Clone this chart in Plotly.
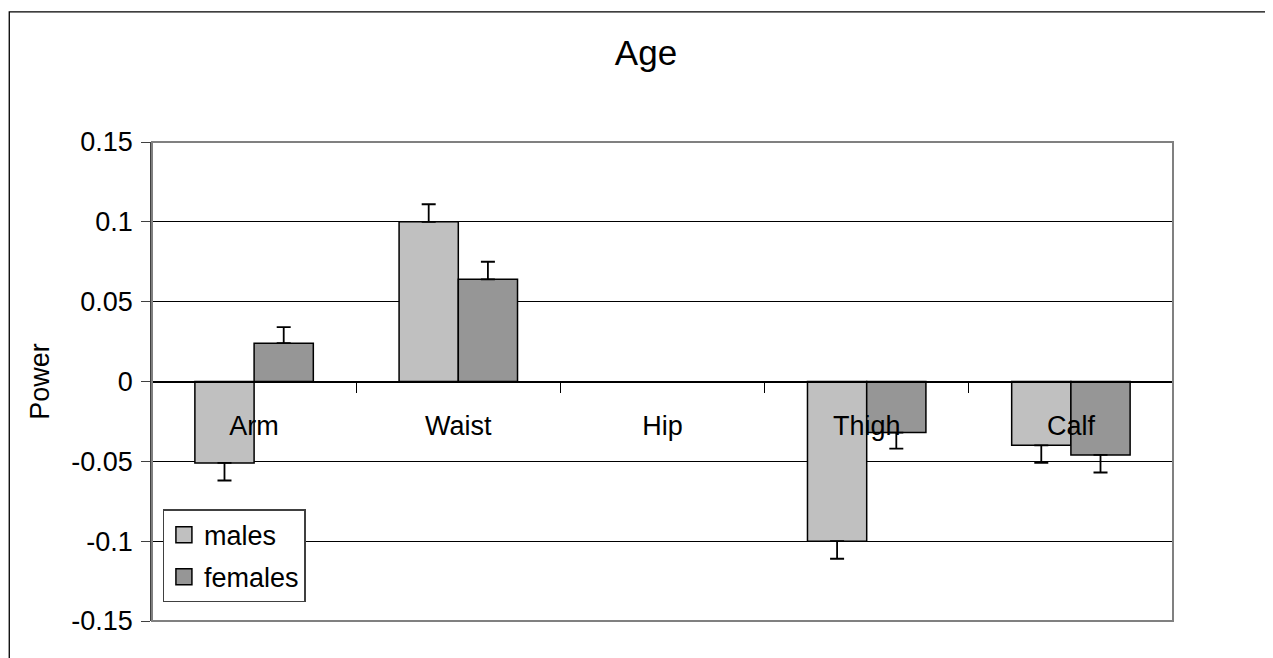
import plotly.graph_objects as go

categories = ["Arm", "Waist", "Hip", "Thigh", "Calf"]
males = [-0.051, 0.100, None, -0.100, -0.040]
females = [0.024, 0.064, None, -0.032, -0.046]
males_err = [0.011, 0.011, None, 0.011, 0.011]
females_err = [0.010, 0.011, None, 0.010, 0.011]
ytick_vals = [0.15, 0.1, 0.05, 0, -0.05, -0.1, -0.15]
ytick_text = ["0.15", "0.1", "0.05", "0", "-0.05", "-0.1", "-0.15"]

FONT = "Liberation Sans, Arial, sans-serif"
W, H = 1265, 650  # page body has an 8px margin


def err_parts(vals, errs):
    up = [(e if (v is not None and v >= 0) else 0) if e is not None else None for v, e in zip(vals, errs)]
    down = [(e if (v is not None and v < 0) else 0) if e is not None else None for v, e in zip(vals, errs)]
    return up, down


fig = go.Figure()
for name, vals, errs, color in [("males", males, males_err, "#C0C0C0"),
                                ("females", females, females_err, "#969696")]:
    up, down = err_parts(vals, errs)
    fig.add_trace(go.Bar(
        x=categories, y=vals, name=name, showlegend=False,
        marker=dict(color=color, line=dict(color="black", width=1.5)),
        error_y=dict(type="data", symmetric=False, array=up, arrayminus=down,
                     color="black", thickness=1.8, width=7),
    ))
    # legend entry
    fig.add_trace(go.Scatter(
        x=[None], y=[None], name=name, mode="markers", legendgroup=name,
        marker=dict(symbol="square", size=16, color=color, line=dict(color="black", width=1.5)),
    ))

fig.update_layout(
    width=W, height=H,
    margin=dict(l=144, r=100, t=134, b=37),
    paper_bgcolor="white", plot_bgcolor="white",
    font=dict(family=FONT, size=27, color="black"),
    barmode="group", bargap=0.42, bargroupgap=0,
    title=dict(text="Age", x=638 / W, xref="container", xanchor="center",
               y=1 - 45 / H, yref="container", yanchor="middle",
               font=dict(size=35, family=FONT, color="black")),
    legend=dict(x=0.0104, y=0.039, xanchor="left", yanchor="bottom",
                bgcolor="white", bordercolor="#404040", borderwidth=1.3,
                tracegroupgap=4,
                font=dict(size=27, family=FONT, color="black")),
    xaxis=dict(type="category", categoryorder="array", categoryarray=categories,
               range=[-0.5, 4.5], anchor="free", position=0.5,
               showline=True, linecolor="black", linewidth=1,
               ticks="outside", tickson="boundaries", ticklen=10, tickcolor="black",
               tickwidth=1, showgrid=False, ticklabelstandoff=20,
               tickfont=dict(size=27, family=FONT, color="black")),
    yaxis=dict(range=[-0.15, 0.15], tickvals=ytick_vals, ticktext=ytick_text,
               showgrid=True, gridcolor="black", gridwidth=1,
               zeroline=True, zerolinecolor="black", zerolinewidth=1,
               showline=True, linecolor="#404040", linewidth=1.5,
               ticks="outside", ticklen=9, tickcolor="#404040", ticklabelstandoff=3,
               tickfont=dict(size=27, family=FONT, color="black")),
    shapes=[
        dict(type="rect", xref="paper", yref="paper", x0=0, x1=1, y0=0, y1=1,
             line=dict(color="#808080", width=2), layer="above"),
        dict(type="rect", xref="paper", yref="paper", x0=-0.1398, x1=2, y0=-1, y1=1.2718,
             line=dict(color="black", width=1.3), layer="above"),
    ],
)
fig.update_yaxes(title=dict(text="Power", standoff=14,
                            font=dict(size=27, family=FONT, color="black")))

fig.write_html("out.html")
